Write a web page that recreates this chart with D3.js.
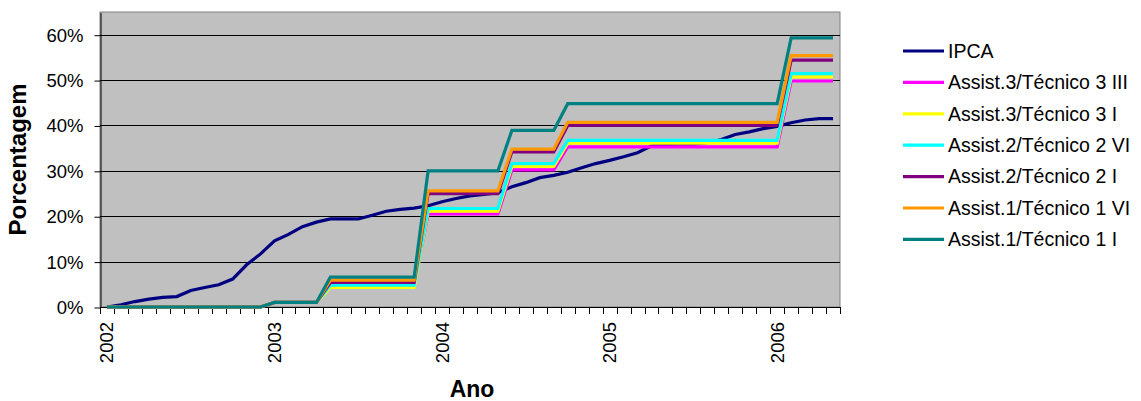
<!DOCTYPE html>
<html>
<head>
<meta charset="utf-8">
<script src="https://cdn.jsdelivr.net/npm/d3@7"></script>
<style>
  html, body { margin: 0; padding: 0; background: #fff; }
  svg { display: block; font-family: "Liberation Sans", Arial, sans-serif; }
</style>
</head>
<body>
<svg id="chart" width="1141" height="401"></svg>
<script>
// Monthly categories, Jan 2002 – May 2006
const years = [2002, 2003, 2004, 2005, 2006];
const categories = [];
years.forEach(y => {
  const lastMonth = y === 2006 ? 5 : 12;
  for (let m = 1; m <= lastMonth; m++) categories.push(y + "-" + String(m).padStart(2, "0"));
});
const yearLabels = ["2002", "2003", "2004", "2005", "2006"];

// Accumulated percentages (%)
const ipca = [0.0, 0.5, 1.2, 1.75, 2.1, 2.3, 3.65, 4.3, 4.9, 6.15, 9.3, 11.7,
  14.6, 16.0, 17.7, 18.7, 19.4, 19.4, 19.4, 20.2, 21.1, 21.5, 21.8, 22.3,
  23.2, 23.9, 24.5, 24.8, 25.2, 26.5, 27.4, 28.5, 29.0, 29.7, 30.7, 31.6,
  32.3, 33.1, 34.0, 35.5, 35.8, 35.9, 35.9, 36.2, 36.9, 38.0, 38.6, 39.3,
  39.8, 40.6, 41.2, 41.5, 41.5];

const assist3TecIII = [0, 0, 0, 0, 0, 0, 0, 0, 0, 0, 0, 0,
  1.0, 1.0, 1.0, 1.0, 5.0, 5.0, 5.0, 5.0, 5.0, 5.0, 5.0, 20.5,
  20.5, 20.5, 20.5, 20.5, 20.5, 30.2, 30.2, 30.2, 30.2, 35.3, 35.3, 35.3,
  35.3, 35.3, 35.3, 35.3, 35.3, 35.3, 35.3, 35.3, 35.3, 35.3, 35.3, 35.3,
  35.3, 49.8, 49.8, 49.8, 49.8];

const assist3TecI = [0, 0, 0, 0, 0, 0, 0, 0, 0, 0, 0, 0,
  1.0, 1.0, 1.0, 1.0, 4.3, 4.3, 4.3, 4.3, 4.3, 4.3, 4.3, 21.1,
  21.1, 21.1, 21.1, 21.1, 21.1, 31.0, 31.0, 31.0, 31.0, 36.1, 36.1, 36.1,
  36.1, 36.1, 36.1, 36.1, 36.1, 36.1, 36.1, 36.1, 36.1, 36.1, 36.1, 36.1,
  36.1, 50.7, 50.7, 50.7, 50.7];

const assist2TecVI = [0, 0, 0, 0, 0, 0, 0, 0, 0, 0, 0, 0,
  1.0, 1.0, 1.0, 1.0, 4.8, 4.8, 4.8, 4.8, 4.8, 4.8, 4.8, 21.7,
  21.7, 21.7, 21.7, 21.7, 21.7, 31.6, 31.6, 31.6, 31.6, 36.7, 36.7, 36.7,
  36.7, 36.7, 36.7, 36.7, 36.7, 36.7, 36.7, 36.7, 36.7, 36.7, 36.7, 36.7,
  36.7, 51.4, 51.4, 51.4, 51.4];

const assist2TecI = [0, 0, 0, 0, 0, 0, 0, 0, 0, 0, 0, 0,
  1.0, 1.0, 1.0, 1.0, 5.4, 5.4, 5.4, 5.4, 5.4, 5.4, 5.4, 25.0,
  25.0, 25.0, 25.0, 25.0, 25.0, 34.2, 34.2, 34.2, 34.2, 40.0, 40.0, 40.0,
  40.0, 40.0, 40.0, 40.0, 40.0, 40.0, 40.0, 40.0, 40.0, 40.0, 40.0, 40.0,
  40.0, 54.4, 54.4, 54.4, 54.4];

const assist1TecVI = [0, 0, 0, 0, 0, 0, 0, 0, 0, 0, 0, 0,
  1.0, 1.0, 1.0, 1.0, 5.9, 5.9, 5.9, 5.9, 5.9, 5.9, 5.9, 25.6,
  25.6, 25.6, 25.6, 25.6, 25.6, 34.8, 34.8, 34.8, 34.8, 40.7, 40.7, 40.7,
  40.7, 40.7, 40.7, 40.7, 40.7, 40.7, 40.7, 40.7, 40.7, 40.7, 40.7, 40.7,
  40.7, 55.4, 55.4, 55.4, 55.4];

const assist1TecI = [0, 0, 0, 0, 0, 0, 0, 0, 0, 0, 0, 0,
  1.0, 1.0, 1.0, 1.0, 6.6, 6.6, 6.6, 6.6, 6.6, 6.6, 6.6, 30.0,
  30.0, 30.0, 30.0, 30.0, 30.0, 38.9, 38.9, 38.9, 38.9, 44.8, 44.8, 44.8,
  44.8, 44.8, 44.8, 44.8, 44.8, 44.8, 44.8, 44.8, 44.8, 44.8, 44.8, 44.8,
  44.8, 59.3, 59.3, 59.3, 59.3];

const seriesNames = ["IPCA", "Assist.3/Técnico 3 III", "Assist.3/Técnico 3 I",
  "Assist.2/Técnico 2 VI", "Assist.2/Técnico 2 I", "Assist.1/Técnico 1 VI",
  "Assist.1/Técnico 1 I"];
const seriesValues = [ipca, assist3TecIII, assist3TecI, assist2TecVI, assist2TecI, assist1TecVI, assist1TecI];
const seriesColors = ["#000080", "#FF00FF", "#FFFF00", "#00FFFF", "#800080", "#FF9900", "#008080"];
const yTicks = [0, 0.1, 0.2, 0.3, 0.4, 0.5, 0.6];

const plot = { left: 100, right: 840, top: 12, bottom: 307 };
const svg = d3.select("#chart");

const x = d3.scaleBand().domain(categories).range([plot.left, plot.right]).paddingInner(0).paddingOuter(0);
const y = d3.scaleLinear().domain([0, 0.65]).range([plot.bottom, plot.top]);
const cx = c => x(c) + x.bandwidth() / 2;

// Plot area
svg.append("rect")
  .attr("x", plot.left).attr("y", plot.top)
  .attr("width", plot.right - plot.left).attr("height", plot.bottom - plot.top)
  .attr("fill", "#C0C0C0").attr("stroke", "#808080").attr("stroke-width", 1);

// Horizontal gridlines
svg.append("g").selectAll("line").data(yTicks.slice(1)).join("line")
  .attr("x1", plot.left).attr("x2", plot.right)
  .attr("y1", d => Math.round(y(d)) + 0.5).attr("y2", d => Math.round(y(d)) + 0.5)
  .attr("stroke", "#000").attr("stroke-width", 1);

// Y axis
const yAxis = d3.axisLeft(y).tickValues(yTicks).tickFormat(d3.format(".0%"))
  .tickSizeInner(6).tickSizeOuter(0).tickPadding(11);
const gy = svg.append("g").attr("transform", `translate(${plot.left + 0.5},0.5)`).call(yAxis);
gy.select(".domain").attr("stroke", "#000");
gy.selectAll(".tick line").attr("stroke", "#000");
gy.selectAll(".tick text").attr("font-size", 18.5).attr("fill", "#000")
  .attr("font-family", "'Liberation Sans', Arial, sans-serif");

// X axis: baseline, tick marks between months, year labels at January
const gx = svg.append("g");
gx.append("line")
  .attr("x1", plot.left).attr("x2", plot.right + 1)
  .attr("y1", plot.bottom + 0.5).attr("y2", plot.bottom + 0.5)
  .attr("stroke", "#000");
const boundaries = categories.map(c => x(c)).concat([plot.right]);
gx.selectAll("line.tick").data(boundaries).join("line").attr("class", "tick")
  .attr("x1", d => Math.round(d) + 0.5).attr("x2", d => Math.round(d) + 0.5)
  .attr("y1", plot.bottom).attr("y2", plot.bottom + 7)
  .attr("stroke", "#000");
gx.selectAll("text").data(yearLabels).join("text")
  .attr("transform", d => `translate(${cx(d + "-01")},322) rotate(-90)`)
  .attr("text-anchor", "end").attr("dy", "0.35em")
  .attr("font-size", 18.5).attr("fill", "#000")
  .text(d => d);

// Series lines
const line = d3.line().x((d, i) => cx(categories[i])).y(d => y(d / 100));
svg.append("g").selectAll("path").data(seriesValues).join("path")
  .attr("d", d => line(d))
  .attr("fill", "none")
  .attr("stroke", (d, i) => seriesColors[i])
  .attr("stroke-width", 3.2)
  .attr("stroke-linejoin", "miter");

// Axis titles
svg.append("text")
  .attr("transform", `translate(26,${(plot.top + plot.bottom) / 2}) rotate(-90)`)
  .attr("text-anchor", "middle")
  .attr("font-size", 24).attr("font-weight", "bold").attr("fill", "#000")
  .text("Porcentagem");
svg.append("text")
  .attr("x", 472).attr("y", 397)
  .attr("text-anchor", "middle")
  .attr("font-size", 23).attr("font-weight", "bold").attr("fill", "#000")
  .text("Ano");

// Legend
const legend = svg.append("g");
const rows = legend.selectAll("g").data(seriesNames).join("g")
  .attr("transform", (d, i) => `translate(903,${51 + i * 31.4})`);
rows.append("line")
  .attr("x1", 0).attr("x2", 41).attr("y1", 0).attr("y2", 0)
  .attr("stroke", (d, i) => seriesColors[i]).attr("stroke-width", 3.2);
rows.append("text")
  .attr("x", 45).attr("dy", "0.35em")
  .attr("font-size", 19.5).attr("fill", "#000")
  .text(d => d);
</script>
</body>
</html>
